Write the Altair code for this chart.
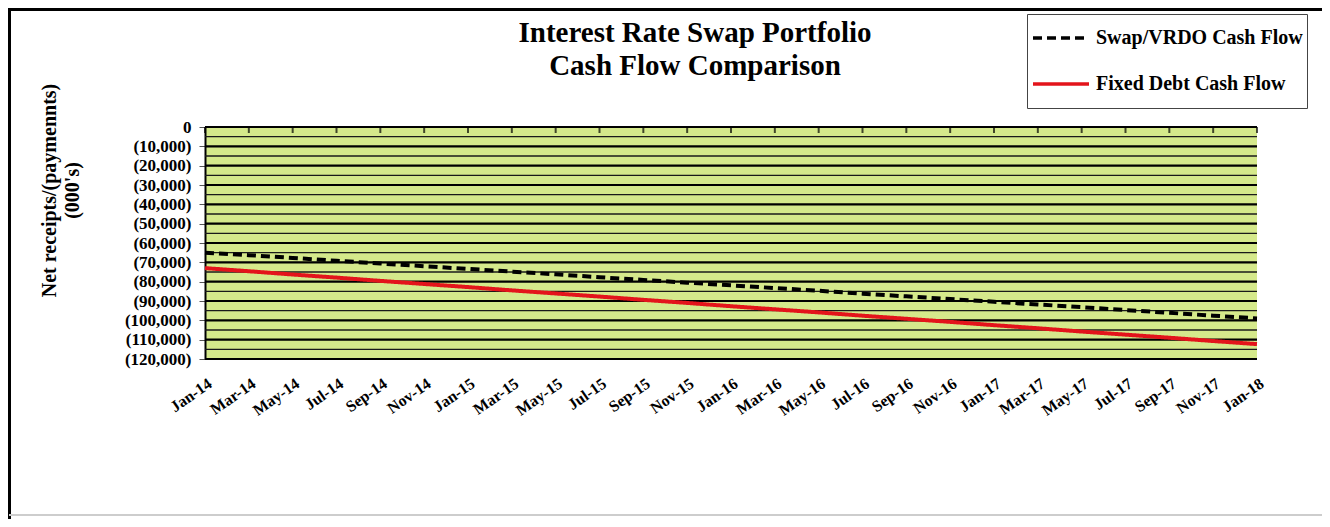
import altair as alt
import pandas as pd

# ---- data ----
x_labels = ["Jan-14", "Mar-14", "May-14", "Jul-14", "Sep-14", "Nov-14",
            "Jan-15", "Mar-15", "May-15", "Jul-15", "Sep-15", "Nov-15",
            "Jan-16", "Mar-16", "May-16", "Jul-16", "Sep-16", "Nov-16",
            "Jan-17", "Mar-17", "May-17", "Jul-17", "Sep-17", "Nov-17",
            "Jan-18"]
swap_vrdo = [-65000, -66300, -67700, -69200, -70600, -72000,
             -73400, -74800, -76200, -77700, -79100, -80500,
             -81900, -83300, -84700, -86200, -87600, -89000,
             -90400, -91800, -93200, -94700, -96100, -97600,
             -99000]
fixed_debt = [-73000, -74600, -76300, -77900, -79600, -81200,
              -82800, -84500, -86100, -87700, -89400, -91000,
              -92700, -94300, -95900, -97600, -99200, -100800,
              -102500, -104100, -105800, -107400, -109000, -110700,
              -112300]
series_names = ["Swap/VRDO Cash Flow", "Fixed Debt Cash Flow"]
y_ticks = [0, -10000, -20000, -30000, -40000, -50000, -60000,
           -70000, -80000, -90000, -100000, -110000, -120000]
minor_grid = [-5000, -15000, -25000, -35000, -45000, -55000, -65000,
              -75000, -85000, -95000, -105000, -115000]

# ---- tables ----
rows = []
for i, lab in enumerate(x_labels):
    rows.append({"m": i * 2, "label": lab, "series": series_names[0], "value": swap_vrdo[i]})
    rows.append({"m": i * 2, "label": lab, "series": series_names[1], "value": fixed_debt[i]})
df = pd.DataFrame(rows)
ticks_df = pd.DataFrame({"m": [i * 2 for i in range(len(x_labels))]})
major_df = pd.DataFrame({"value": y_ticks})
minor_df = pd.DataFrame({"value": minor_grid})

FONT = "Liberation Serif"
W, H = 1052, 232
label_arr = "[" + ",".join("'" + l + "'" for l in x_labels) + "]"

xscale = alt.Scale(domain=[0, 48], nice=False, zero=False)
yscale = alt.Scale(domain=[-120000, 0], nice=False)

x_axis = alt.Axis(values=[i * 2 for i in range(len(x_labels))],
                  labelExpr=label_arr + "[datum.value/2]",
                  labelAngle=325, labelAlign="right", labelBaseline="top",
                  labelFont=FONT, labelFontSize=16, labelFontWeight="bold",
                  labelColor="black", labelOverlap=False, labelPadding=16,
                  ticks=False, domain=False, grid=False, title=None)
y_axis = alt.Axis(values=y_ticks,
                  labelExpr="datum.value == 0 ? '0' : '(' + format(abs(datum.value), ',') + ')'",
                  labelFont=FONT, labelFontSize=17, labelFontWeight="bold",
                  labelColor="black", labelPadding=8, labelOverlap=False,
                  tickSize=6, tickColor="#555555", domainColor="black", domainWidth=2,
                  grid=False,
                  title=["Net receipts/(paymennts)", "(000's)"],
                  titleFont=FONT, titleFontSize=20, titleFontWeight="bold",
                  titleColor="black", titlePadding=42, titleLineHeight=23,
                  titleY=63)

leg = dict(title=None, orient="none", legendX=822, legendY=-113,
           strokeColor="#444444", fillColor="white", padding=4,
           symbolType="stroke", symbolSize=3136, symbolStrokeWidth=3.5,
           labelFont=FONT, labelFontSize=20, labelFontWeight="bold",
           labelColor="black", labelLimit=400, rowPadding=6, labelOffset=5,
           clipHeight=40)

minor = alt.Chart(minor_df).mark_rule(color="#1a1a1a", strokeWidth=1.3).encode(
    y=alt.Y("value:Q", scale=yscale, axis=y_axis)
)
major = alt.Chart(major_df).mark_rule(color="#000000", strokeWidth=2.2).encode(
    y=alt.Y("value:Q", scale=yscale, axis=y_axis)
)
top_ticks = alt.Chart(ticks_df).mark_tick(color="black", thickness=2, size=6, yOffset=3).encode(
    x=alt.X("m:Q", scale=xscale, axis=x_axis),
    y=alt.value(0),
)

lines = alt.Chart(df).mark_line(strokeWidth=4).encode(
    x=alt.X("m:Q", scale=xscale, axis=x_axis),
    y=alt.Y("value:Q", scale=yscale, axis=y_axis),
    color=alt.Color("series:N",
                    scale=alt.Scale(domain=series_names, range=["#000000", "#e3141b"]),
                    legend=alt.Legend(**leg)),
    strokeDash=alt.StrokeDash("series:N",
                              scale=alt.Scale(domain=series_names, range=[[9, 5], [1, 0]]),
                              legend=alt.Legend(**leg)),
)

# outer frame of the original figure (top, left and bottom edges)
frame_top = alt.Chart(ticks_df).mark_rule(color="black", strokeWidth=2.5).encode(
    x=alt.value(-197), x2=alt.value(W + 70), y=alt.value(-118)
)
frame_left = alt.Chart(ticks_df).mark_rule(color="black", strokeWidth=2.5).encode(
    x=alt.value(-196), y=alt.value(-119), y2=alt.value(H + 160)
)
frame_bottom = alt.Chart(ticks_df).mark_rule(color="#cccccc", strokeWidth=1.5).encode(
    x=alt.value(-196), x2=alt.value(W + 70), y=alt.value(H + 156)
)

chart = alt.layer(frame_top, frame_left, frame_bottom, minor, major, top_ticks, lines).properties(
    width=W, height=H,
    title=alt.TitleParams(["Interest Rate Swap Portfolio", "Cash Flow Comparison"],
                          font=FONT, fontSize=29, fontWeight="bold", color="black",
                          anchor="middle", frame="group", dx=-36, offset=0, dy=74,
                          lineHeight=33),
    autosize=alt.AutoSizeParams(type="none"),
    padding={"left": 197, "top": 119, "right": 65, "bottom": 160},
).configure(background="white").configure_axis(labelOverlap=False).configure_view(fill="#d5e98b", stroke=None)

chart.save("out.html", embed_options={"renderer": "svg", "actions": False})
